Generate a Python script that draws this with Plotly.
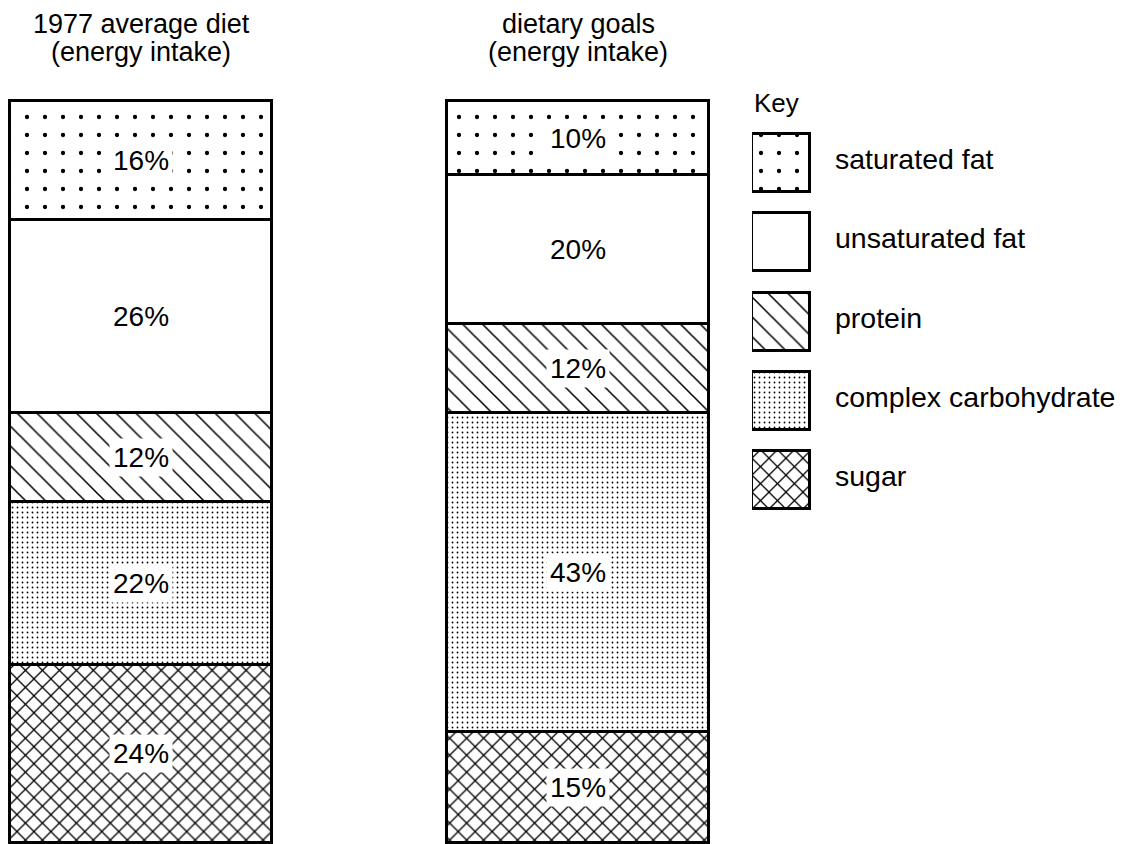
import plotly.graph_objects as go

# ---- data ----
categories = ["saturated fat", "unsaturated fat", "protein", "complex carbohydrate", "sugar"]
diet_1977 = [16, 26, 12, 22, 24]
dietary_goals = [10, 20, 12, 43, 15]
bar_titles = [["1977 average diet", "(energy intake)"], ["dietary goals", "(energy intake)"]]
key_title = "Key"

# ---- styles ----
patterns = {
    "saturated fat": dict(shape=".", size=18, solidity=0.045),
    "unsaturated fat": dict(shape="", size=8, solidity=0.0),
    "protein": dict(shape="\\", size=14, solidity=0.11),
    "complex carbohydrate": dict(shape=".", size=5, solidity=0.10),
    "sugar": dict(shape="x", size=12, solidity=0.2),
}
FONT = "Liberation Sans, Arial, sans-serif"
W, H = 1122, 844


def pat(p):
    return dict(shape=p["shape"], size=p["size"], solidity=p["solidity"],
                fgcolor="black", fgopacity=1, bgcolor="white", fillmode="replace")


fig = go.Figure()
xs = [0, 1]
# stack from bottom (sugar) to top (saturated fat)
for cat in reversed(categories):
    i = categories.index(cat)
    fig.add_trace(go.Bar(
        x=xs, y=[diet_1977[i], dietary_goals[i]], width=0.5995,
        marker=dict(color="white", line=dict(color="black", width=3), pattern=pat(patterns[cat])),
        showlegend=False, hoverinfo="skip", xaxis="x", yaxis="y"))

# percentage labels at segment centres
for xi, vals in zip(xs, [diet_1977, dietary_goals]):
    base = 0
    for cat in reversed(categories):
        v = vals[categories.index(cat)]
        fig.add_annotation(x=xi, y=base + v / 2, xref="x", yref="y", text=f"{v}%",
                           showarrow=False, bgcolor="white", borderpad=3,
                           font=dict(family=FONT, size=28, color="black"))
        base += v

# bar titles
for xi, lines in zip(xs, bar_titles):
    for k, line in enumerate(lines):
        fig.add_annotation(x=xi, y=1 - (24 + 28 * k) / H, xref="x", yref="paper", text=line,
                           showarrow=False, yanchor="middle",
                           font=dict(family=FONT, size=27, color="black"))

# key (legend) built as small patterned bars
for i, cat in enumerate(categories):
    fig.add_trace(go.Bar(
        x=[1], y=[i], base=[0], orientation="h", width=0.731,
        marker=dict(color="white", line=dict(color="black", width=3), pattern=pat(patterns[cat])),
        showlegend=False, hoverinfo="skip", xaxis="x2", yaxis="y2"))
    fig.add_annotation(x=1.397, y=i, xref="x2", yref="y2", text=cat, showarrow=False,
                       xanchor="left", yanchor="middle", yshift=4,
                       font=dict(family=FONT, size=28.5, color="black"))
fig.add_annotation(x=0, y=-0.757, xref="x2", yref="y2", text=key_title, showarrow=False,
                   xanchor="left", yanchor="middle", font=dict(family=FONT, size=26, color="black"))

fig.update_layout(
    width=W, height=H, margin=dict(l=0, r=0, t=0, b=0),
    paper_bgcolor="white", plot_bgcolor="white", barmode="stack", bargap=0,
    xaxis=dict(domain=[0, 1], range=[-141 / 437, (W - 141) / 437], visible=False, fixedrange=True),
    yaxis=dict(domain=[0, 1], range=[-0.13, 113.6], visible=False, fixedrange=True),
    xaxis2=dict(domain=[752 / W, 1], range=[0, 370 / 58], anchor="y2", visible=False, fixedrange=True),
    yaxis2=dict(domain=[0, 1], range=[8.5876, -2.0555], anchor="x2", visible=False, fixedrange=True),
    showlegend=False,
)

fig.write_html("out.html", config={"displayModeBar": False},
               post_script="document.body.style.margin='0';document.body.style.overflow='hidden';")
